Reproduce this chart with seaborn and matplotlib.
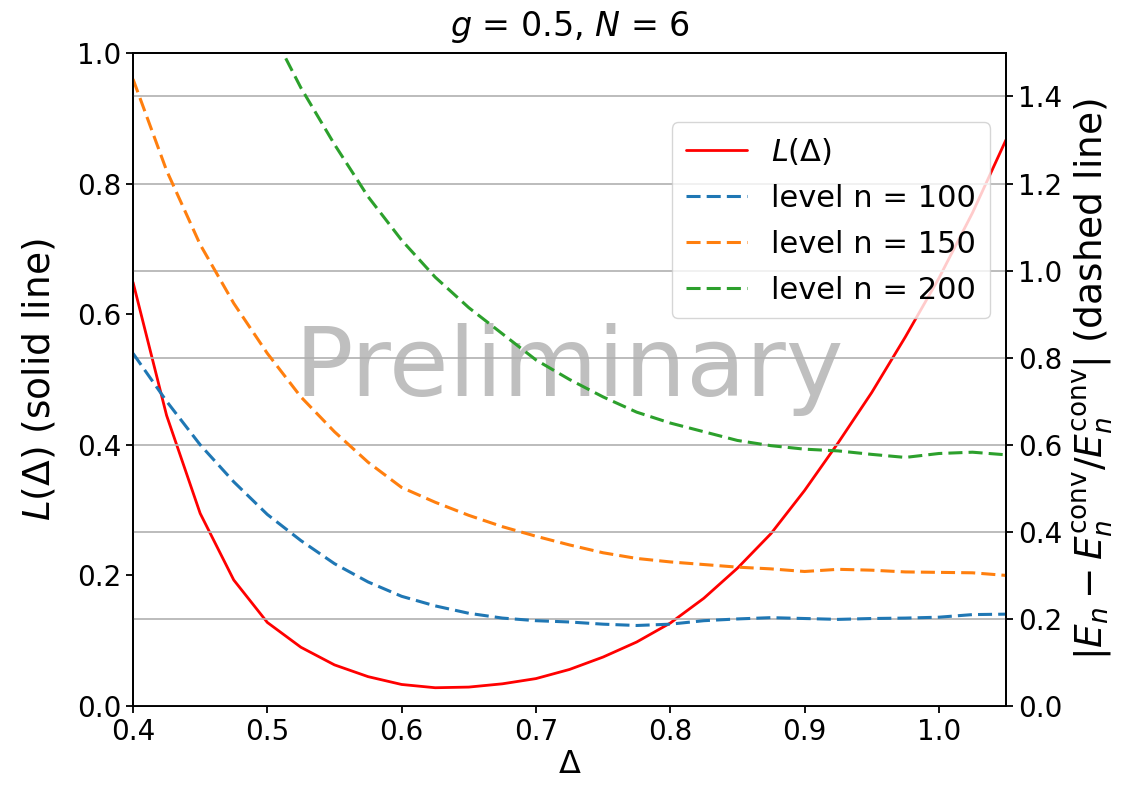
import numpy as np
import pandas as pd
import matplotlib
matplotlib.use("Agg")
import matplotlib.pyplot as plt
import seaborn as sns

# Loss function L(Delta) (left axis, solid line)
delta_L = [0.400, 0.425, 0.450, 0.475, 0.500, 0.525, 0.550, 0.575, 0.600,
           0.625, 0.650, 0.675, 0.700, 0.725, 0.750, 0.775, 0.800, 0.825,
           0.850, 0.875, 0.900, 0.925, 0.950, 0.975, 1.000, 1.025, 1.050]
loss = [0.649, 0.445, 0.295, 0.193, 0.128, 0.090, 0.063, 0.045, 0.033,
        0.028, 0.029, 0.034, 0.042, 0.056, 0.075, 0.098, 0.127, 0.165,
        0.211, 0.264, 0.330, 0.403, 0.480, 0.565, 0.655, 0.755, 0.867]

# Relative deviation of levels from converged energies (right axis, dashed)
delta_n100 = delta_L
dev_n100 = [0.810, 0.700, 0.600, 0.515, 0.440, 0.380, 0.327, 0.285, 0.252,
            0.230, 0.213, 0.202, 0.196, 0.193, 0.188, 0.185, 0.188, 0.196,
            0.200, 0.203, 0.201, 0.199, 0.201, 0.202, 0.204, 0.210, 0.211]

delta_n150 = delta_L
dev_n150 = [1.440, 1.230, 1.060, 0.925, 0.810, 0.710, 0.630, 0.560, 0.502,
            0.468, 0.438, 0.412, 0.390, 0.370, 0.352, 0.339, 0.331, 0.325,
            0.319, 0.315, 0.309, 0.314, 0.312, 0.308, 0.307, 0.306, 0.300]

delta_n200 = [0.500, 0.525, 0.550, 0.575, 0.600, 0.625, 0.650, 0.675, 0.700,
              0.725, 0.750, 0.775, 0.800, 0.825, 0.850, 0.875, 0.900, 0.925,
              0.950, 0.975, 1.000, 1.025, 1.050]
dev_n200 = [1.570, 1.420, 1.290, 1.170, 1.070, 0.985, 0.915, 0.855, 0.795,
            0.750, 0.710, 0.675, 0.650, 0.630, 0.610, 0.598, 0.590, 0.586,
            0.578, 0.571, 0.580, 0.583, 0.577]

level_labels = ["level n = 100", "level n = 150", "level n = 200"]
level_colors = ["tab:blue", "tab:orange", "tab:green"]

x_ticks = [0.4, 0.5, 0.6, 0.7, 0.8, 0.9, 1.0]
left_ticks = [0.0, 0.2, 0.4, 0.6, 0.8, 1.0]
right_ticks = [0.0, 0.2, 0.4, 0.6, 0.8, 1.0, 1.2, 1.4]

sns.set_style("ticks")
plt.rcParams["font.family"] = ["DejaVu Sans"]
plt.rcParams["mathtext.fontset"] = "dejavusans"
plt.rcParams["lines.dashed_pattern"] = [4.6, 2.0]
for key in ("text.color", "axes.labelcolor", "xtick.color", "ytick.color",
            "axes.edgecolor"):
    plt.rcParams[key] = "black"

fig = plt.figure(figsize=(11.32, 7.94), dpi=100)
ax1 = fig.add_axes([0.1175, 0.1108, 0.7712, 0.8225])
ax2 = ax1.twinx()

df_L = pd.DataFrame({"delta": delta_L, "value": loss})
sns.lineplot(data=df_L, x="delta", y="value", ax=ax1, color="red",
             linewidth=2.0, label=r"$L(\Delta)$", legend=False)

level_data = [(delta_n100, dev_n100), (delta_n150, dev_n150), (delta_n200, dev_n200)]
for (xs, ys), lab, col in zip(level_data, level_labels, level_colors):
    df = pd.DataFrame({"delta": xs, "value": ys})
    sns.lineplot(data=df, x="delta", y="value", ax=ax2, color=col,
                 linewidth=2.2, linestyle="--", label=lab, legend=False)

ax1.set_xlim(0.4, 1.05)
ax1.set_ylim(0.0, 1.0)
ax2.set_ylim(0.0, 1.5)
ax1.set_xticks(x_ticks)
ax1.set_xticklabels([f"{t:.1f}" for t in x_ticks])
ax1.set_yticks(left_ticks)
ax1.set_yticklabels([f"{t:.1f}" for t in left_ticks])
ax2.set_yticks(right_ticks)
ax2.set_yticklabels([f"{t:.1f}" for t in right_ticks])

ax2.grid(axis="y", color="#b0b0b0", linewidth=1.2)
ax1.grid(False)
ax2.set_axisbelow(True)

for ax in (ax1, ax2):
    ax.tick_params(labelsize=20, length=5, width=1.3, direction="out")
    for sp in ax.spines.values():
        sp.set_linewidth(1.3)
        sp.set_color("black")

ax1.set_xlabel(r"$\Delta$", fontsize=23, labelpad=2)
ax1.set_ylabel(r"$L(\Delta)$ (solid line)", fontsize=27, labelpad=14)
ax2.set_ylabel(r"$|E_n - E_n^{\rm conv}/E_n^{\rm conv}|$ (dashed line)",
               fontsize=27, labelpad=6)
ax1.set_title(r"$g$ = 0.5, $N$ = 6", fontsize=24, pad=12)

ax1.text(0.5, 0.515, "Preliminary", transform=ax1.transAxes, ha="center",
         va="center", fontsize=70, color="gray", alpha=0.5)

h1, l1 = ax1.get_legend_handles_labels()
h2, l2 = ax2.get_legend_handles_labels()
ax2.legend(h1 + h2, l1 + l2, loc="upper right", bbox_to_anchor=(0.999, 0.917),
           fontsize=22, frameon=True, framealpha=0.8, edgecolor="#cccccc",
           handlelength=2.0, borderpad=0.45, labelspacing=0.55)

fig.savefig("out.png", dpi=100)
